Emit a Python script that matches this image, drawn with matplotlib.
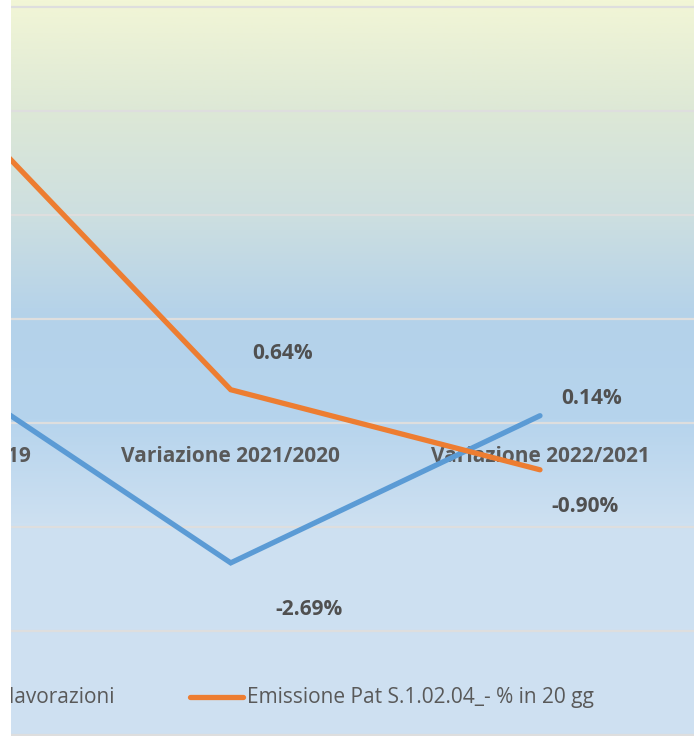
import numpy as np
import matplotlib.pyplot as plt
from matplotlib.colors import LinearSegmentedColormap

# categories and series (values in %)
categories = ['Variazione 2020/2019', 'Variazione 2021/2020', 'Variazione 2022/2021']
blue_name = 'Emissione Pat S.1.02.04_- % in lavorazioni'
orange_name = 'Emissione Pat S.1.02.04_- % in 20 gg'
blue_vals = [1.29, -2.69, 0.14]
orange_vals = [6.86, 0.64, -0.90]

BLUE = '#5B9BD5'
ORANGE = '#ED7D31'
GRAY = '#595959'
DARK = '#505050'

plt.rcParams['font.family'] = ['Open Sans', 'DejaVu Sans']

fig = plt.figure(figsize=(6.94, 7.36), dpi=100)
fig.patch.set_facecolor('white')
ax = fig.add_axes([11 / 694, 0, 683 / 694, 1])

# chart area gradient (top yellow -> blue -> light blue)
stops = [(0.00, '#f2f6d6'), (0.15, '#dde8d6'), (0.29, '#cddfe0'),
         (0.43, '#b4d2ea'), (0.57, '#b6d4ed'), (0.71, '#cde0f1'),
         (1.00, '#cfe1f2')]
cmap = LinearSegmentedColormap.from_list('bg', stops)
grad = np.linspace(0, 1, 256).reshape(-1, 1)
ax.imshow(grad, cmap=cmap, aspect='auto', extent=[0, 1, 0, 1],
          origin='upper', transform=ax.transAxes, zorder=0)

x = np.arange(len(categories))
ax.set_xlim(0.2895, 2.498)
ax.set_ylim(-6.02, 8.135)

for g in np.arange(-6, 9, 2):
    ax.axhline(g, color='#dedede', lw=1.6, zorder=1)

ax.plot(x, blue_vals, color=BLUE, lw=3.8, solid_capstyle='round',
        solid_joinstyle='miter', zorder=3)
ax.plot(x, orange_vals, color=ORANGE, lw=3.8, solid_capstyle='round',
        solid_joinstyle='miter', zorder=3)

# category labels sit next to the zero line
for i, c in enumerate(categories):
    ax.annotate(c, (i, 0), xytext=(0, -34), textcoords='offset pixels',
                ha='center', va='center', fontsize=15, fontweight='bold',
                color=GRAY, clip_on=True, annotation_clip=False, zorder=2)

# data labels (manually moved in the original)
blue_off = [(78, -47), (78, -47), (52, 17)]
orange_off = [(52, 36), (52, 36), (45, -37)]
for i in range(1, len(categories)):
    ax.annotate(f'{blue_vals[i]:.2f}%', (i, blue_vals[i]), xytext=blue_off[i],
                textcoords='offset pixels', ha='center', va='center',
                fontsize=15, fontweight='bold', color=DARK, clip_on=True)
    ax.annotate(f'{orange_vals[i]:.2f}%', (i, orange_vals[i]), xytext=orange_off[i],
                textcoords='offset pixels', ha='center', va='center',
                fontsize=15, fontweight='bold', color=DARK, clip_on=True)

# legend, drawn by hand (left part is cut off)
ly = 1 - 698 / 736
ax.text((115 - 11) / 683, ly, blue_name, transform=ax.transAxes, ha='right',
        va='center', fontsize=15, color=GRAY, clip_on=True)
ax.plot([(190 - 11) / 683, (243 - 11) / 683], [ly + 1 / 736] * 2, transform=ax.transAxes,
        color=ORANGE, lw=3.8, solid_capstyle='round', clip_on=False, zorder=4)
ax.text((247 - 11) / 683, ly, orange_name, transform=ax.transAxes, ha='left',
        va='center', fontsize=15, color=GRAY)

ax.set_xticks([])
ax.set_yticks([])
for s in ax.spines.values():
    s.set_visible(False)

fig.savefig('out.png', dpi=100)
